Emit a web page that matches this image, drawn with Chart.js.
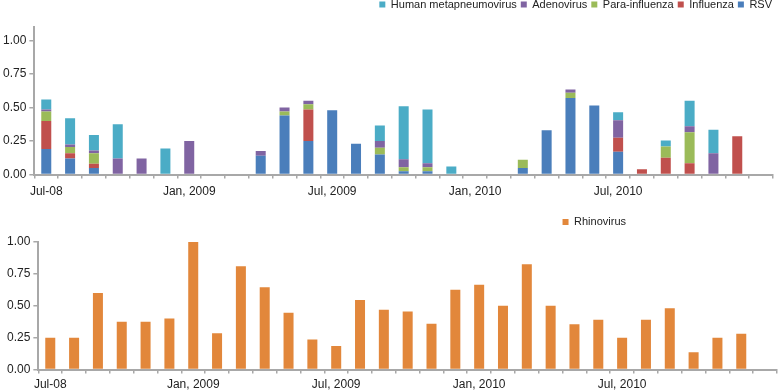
<!DOCTYPE html>
<html>
<head>
<meta charset="utf-8">
<script src="https://cdn.jsdelivr.net/npm/chart.js@4"></script>
<style>
  html, body { margin: 0; padding: 0; background: #fff; overflow: hidden; }
  body { width: 778px; height: 390px; position: relative; }
  .box { position: absolute; left: 0; width: 778px; }
  #top { top: 0; height: 205px; }
  #bottom { top: 204px; height: 192px; }
</style>
</head>
<body>
<div class="box" id="top"><canvas id="virusChart"></canvas></div>
<div class="box" id="bottom"><canvas id="rhinoChart"></canvas></div>
<script>
// months, Jul 2008 .. Jan 2011
const months = [
  'Jul 2008','Aug 2008','Sep 2008','Oct 2008','Nov 2008','Dec 2008',
  'Jan 2009','Feb 2009','Mar 2009','Apr 2009','May 2009','Jun 2009',
  'Jul 2009','Aug 2009','Sep 2009','Oct 2009','Nov 2009','Dec 2009',
  'Jan 2010','Feb 2010','Mar 2010','Apr 2010','May 2010','Jun 2010',
  'Jul 2010','Aug 2010','Sep 2010','Oct 2010','Nov 2010','Dec 2010',
  'Jan 2011'
];
// only these months get a label on the x axis
const xTickLabels = {
  'Jul 2008': 'Jul-08',
  'Jan 2009': 'Jan, 2009',
  'Jul 2009': 'Jul, 2009',
  'Jan 2010': 'Jan, 2010',
  'Jul 2010': 'Jul, 2010'
};
const yTicks = [0, 0.25, 0.5, 0.75, 1.0];

// top chart, stacked (bottom to top: RSV, Influenza, Para, Adeno, hMPV)
const rsv = [0.19, 0.12, 0.05, 0, 0, 0, 0, 0, 0, 0.14, 0.44, 0.25, 0.48, 0.23, 0.15, 0.025,
  0.025, 0, 0, 0, 0.05, 0.33, 0.57, 0.515, 0.17, 0, 0, 0, 0, 0, 0];
const influenza = [0.21, 0.04, 0.03, 0, 0, 0, 0, 0, 0, 0, 0, 0.235, 0, 0, 0, 0,
  0, 0, 0, 0, 0, 0, 0, 0, 0.105, 0.04, 0.125, 0.085, 0, 0.285, 0];
const paraInfluenza = [0.07, 0.045, 0.08, 0, 0, 0, 0, 0, 0, 0, 0.03, 0.04, 0, 0, 0.05, 0.03,
  0.03, 0, 0, 0, 0.06, 0, 0.04, 0, 0, 0, 0.085, 0.23, 0, 0, 0];
const adenovirus = [0.015, 0.02, 0.02, 0.12, 0.12, 0, 0.25, 0, 0, 0.035, 0.03, 0.025, 0, 0, 0.05, 0.06,
  0.03, 0, 0, 0, 0, 0, 0.025, 0, 0.13, 0, 0, 0.045, 0.16, 0, 0];
const hmpv = [0.075, 0.195, 0.115, 0.255, 0, 0.195, 0, 0, 0, 0, 0, 0, 0, 0, 0.115, 0.395,
  0.40, 0.06, 0, 0, 0, 0, 0, 0, 0.06, 0, 0.045, 0.19, 0.175, 0, 0];

// bottom chart
const rhinovirus = [0.25, 0.25, 0.60, 0.375, 0.375, 0.40, 1.00, 0.285, 0.81, 0.645, 0.445, 0.235,
  0.185, 0.545, 0.47, 0.455, 0.36, 0.625, 0.665, 0.50, 0.825, 0.50, 0.355, 0.39,
  0.25, 0.39, 0.48, 0.135, 0.25, 0.28, null];

Chart.defaults.font.family = '"Liberation Sans", Arial, Helvetica, sans-serif';
Chart.defaults.font.size = 12;
Chart.defaults.color = '#222';

const axisGrey = '#a8a8a8';

// move the legend box after layout (position only, chart area stays)
const legendPlace = {
  id: 'legendPlace',
  afterLayout(chart, args, opts) {
    if (!chart.legend) return;
    if (opts.right != null) chart.legend.right = opts.right;
    if (opts.top != null) chart.legend.top = opts.top;
  }
};

function makeScales(yMax, xPad) {
  return {
    x: {
      stacked: true,
      grid: { display: true, drawOnChartArea: false, drawTicks: true, tickLength: 4, color: axisGrey, lineWidth: 1.5, offset: true },
      border: { color: axisGrey, width: 2 },
      ticks: {
        autoSkip: false, maxRotation: 0, padding: xPad,
        callback: function(v, i) { return xTickLabels[months[i]] || ''; }
      }
    },
    y: {
      stacked: true,
      min: 0,
      max: yMax,
      afterBuildTicks: function(scale) {
        scale.ticks = yTicks.map(v => ({ value: v }));
      },
      grid: { display: true, drawOnChartArea: false, drawTicks: true, tickLength: 5, color: axisGrey, lineWidth: 1.5 },
      border: { color: axisGrey, width: 2 },
      ticks: { padding: 3, callback: v => Number(v).toFixed(2) }
    }
  };
}

function legendOpts() {
  return {
    position: 'top',
    align: 'end',
    labels: { boxWidth: 6, boxHeight: 6, padding: 4, font: { size: 11 }, color: '#222' }
  };
}

const barStyle = { barPercentage: 0.42, categoryPercentage: 1, borderWidth: 0 };

new Chart(document.getElementById('virusChart'), {
  type: 'bar',
  data: {
    labels: months,
    datasets: [
      Object.assign({ label: 'RSV', data: rsv, backgroundColor: '#4a7ebb' }, barStyle),
      Object.assign({ label: 'Influenza', data: influenza, backgroundColor: '#c0504d' }, barStyle),
      Object.assign({ label: 'Para-influenza', data: paraInfluenza, backgroundColor: '#9bbb59' }, barStyle),
      Object.assign({ label: 'Adenovirus', data: adenovirus, backgroundColor: '#8064a2' }, barStyle),
      Object.assign({ label: 'Human metapneumovirus', data: hmpv, backgroundColor: '#4bacc6' }, barStyle)
    ]
  },
  options: {
    responsive: true,
    maintainAspectRatio: false,
    animation: false,
    layout: { padding: { top: 2, right: 5, bottom: 0, left: 0 } },
    plugins: {
      legend: Object.assign(legendOpts(), { reverse: true }),
      tooltip: { enabled: false },
      legendPlace: { right: 776, top: -5 }
    },
    scales: makeScales(1.1, 6)
  },
  plugins: [legendPlace]
});

new Chart(document.getElementById('rhinoChart'), {
  type: 'bar',
  data: {
    labels: months,
    datasets: [
      Object.assign({ label: 'Rhinovirus', data: rhinovirus, backgroundColor: '#e2873b' }, barStyle)
    ]
  },
  options: {
    responsive: true,
    maintainAspectRatio: false,
    animation: false,
    layout: { padding: { top: 13, right: 1, bottom: 0, left: 4 } },
    plugins: {
      legend: legendOpts(),
      tooltip: { enabled: false },
      legendPlace: { right: 630, top: 8.5 }
    },
    scales: makeScales(1.0, 4)
  },
  plugins: [legendPlace]
});
</script>
</body>
</html>
